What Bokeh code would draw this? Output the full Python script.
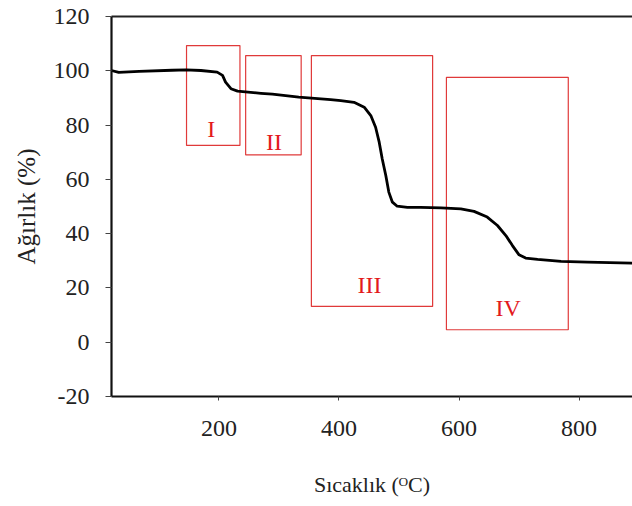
from bokeh.plotting import figure
from bokeh.models import Range1d, LinearAxis, FixedTicker, ColumnDataSource
from bokeh.core.properties import value
from bokeh.embed import file_html
from bokeh.resources import INLINE

# TGA curve: temperature (°C) vs weight (%)
temperature = [21, 33, 67, 122, 145, 170, 197, 206, 211, 220, 231, 270, 289, 333,
               386, 403, 425, 442, 453, 461, 467, 472, 478, 483, 489, 497, 514,
               536, 570, 603, 625, 647, 664, 678, 689, 700, 711, 731, 770, 814, 889]
weight = [100.1, 99.4, 99.8, 100.2, 100.3, 100.1, 99.5, 98.3, 95.8, 93.4, 92.5,
          91.7, 91.4, 90.3, 89.4, 89.0, 88.4, 86.6, 83.5, 79.2, 73.7, 67.6, 61.4,
          55.3, 51.6, 50.1, 49.7, 49.7, 49.5, 49.1, 48.2, 46.1, 43.0, 39.3, 35.6,
          32.2, 31.0, 30.5, 29.8, 29.5, 29.1]

# Decomposition stage boxes
stage_names = ["I", "II", "III", "IV"]
stage_left = [146, 244.5, 354, 579]
stage_right = [235, 337, 556, 782]
stage_bottom = [72.5, 69.0, 13.2, 4.6]
stage_top = [109.3, 105.6, 105.6, 97.6]
stage_label_x = [187, 291.7, 451, 681.7]
stage_label_y = [78.4, 73.7, 20.9, 12.7]

x_ticks = [200, 400, 600, 800]
y_ticks = [-20, 0, 20, 40, 60, 80, 100, 120]

FONT = "Liberation Serif"
RED = "#e31a1c"
TXT = "#222222"

p = figure(width=632, height=506, output_backend="svg", toolbar_location=None,
           x_range=Range1d(21, 889), y_range=Range1d(-20, 120),
           min_border_left=111, min_border_top=16, min_border_bottom=110,
           min_border_right=0)
p.outline_line_color = None
p.grid.visible = False
p.background_fill_color = "white"
p.border_fill_color = "white"

for ax in (p.xaxis[0], p.yaxis[0]):
    ax.axis_line_width = 2.2
    ax.axis_line_color = "#111111"
    ax.minor_tick_line_color = None
    ax.major_tick_in = 0
    ax.major_tick_line_color = "#444444"
    ax.major_label_text_font = FONT
    ax.major_label_text_font_size = "24px"
    ax.major_label_text_color = TXT
    ax.axis_label_text_font = FONT
    ax.axis_label_text_font_style = "normal"
    ax.axis_label_text_color = TXT

p.xaxis.ticker = FixedTicker(ticks=x_ticks)
p.xaxis.major_tick_out = 4
p.xaxis.major_label_standoff = 20
p.xaxis.axis_label = "Sıcaklık (ᴼC)"
p.xaxis.axis_label_text_font_size = "22px"
p.xaxis.axis_label_standoff = 33

p.yaxis.ticker = FixedTicker(ticks=y_ticks)
p.yaxis.major_label_overrides = {-20: "-20"}
p.yaxis.major_tick_out = 6
p.yaxis.major_label_standoff = 16
p.yaxis.axis_label = "Ağırlık (%)"
p.yaxis.axis_label_text_font_size = "25px"
p.yaxis.axis_label_standoff = 11

top_axis = LinearAxis(ticker=FixedTicker(ticks=[]), axis_line_width=2,
                      axis_line_color="#222222", major_tick_line_color=None,
                      minor_tick_line_color=None, major_label_text_color=None)
p.add_layout(top_axis, "above")

# stage boxes
box_src = ColumnDataSource(dict(left=stage_left, right=stage_right,
                                bottom=stage_bottom, top=stage_top))
p.quad(left="left", right="right", bottom="bottom", top="top", source=box_src,
       fill_color=None, line_color="#e03a3a", line_width=1.2)

lab_src = ColumnDataSource(dict(x=stage_label_x, y=stage_label_y, t=stage_names))
p.text(x="x", y="y", text="t", source=lab_src, text_font=value(FONT),
       text_font_size="24px", text_color=RED, text_align="center",
       text_baseline="middle")

# curve
p.line(temperature, weight, line_color="black", line_width=2.8,
       line_join="round")

open("out.html", "w").write(file_html(p, INLINE))
